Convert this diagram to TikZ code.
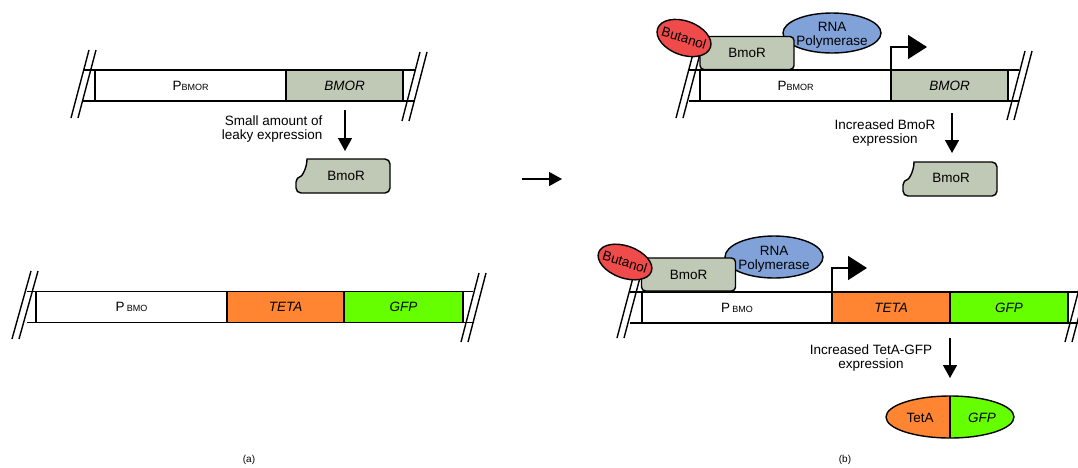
\documentclass[tikz,border=0pt]{standalone}
\usepackage{fontspec}
\setmainfont{Liberation Sans}
\usetikzlibrary{positioning,arrows.meta,calc,shapes.geometric}
\definecolor{bmorgray}{RGB}{192,201,181}
\definecolor{tetaorange}{RGB}{255,133,51}
\definecolor{gfpgreen}{RGB}{102,255,0}
\definecolor{butred}{RGB}{240,75,75}
\definecolor{polblue}{RGB}{128,162,216}

% free BmoR protein, #1 = its top left corner
\newcommand{\bmorprot}[1]{%
  \draw[prot, shift={#1}] (0,18) .. controls (6,17) and (11,9) .. (11,0)
    [rounded corners=5pt] -- (94,0) -- (94,34) -- (0,34) -- cycle;}

\begin{document}
\begin{tikzpicture}[x=1pt, y=-1pt, font=\fontsize{13.5}{14.5}\selectfont,
    gene/.style={draw, line width=1.4pt, minimum height=31pt, inner sep=0pt, outer sep=0pt},
    dna/.style={line width=1.4pt},
    brk/.style={line width=1.4pt},
    prot/.style={draw, line width=1.4pt, fill=bmorgray},
    bound/.style={draw, line width=1.4pt, fill=bmorgray, rounded corners=4pt,
      minimum width=94pt, minimum height=33pt, inner sep=0pt},
    expr/.style={line width=1.4pt, -{Triangle[width=14pt,length=13pt]}},
    prom/.style={line width=1.4pt, -{Triangle[width=24pt,length=19pt]}}]
    \useasboundingbox (0,0) rectangle (1078,467);

    % (a) top: BMOR alone
    \node[gene, minimum width=191pt, anchor=west] (pbmorA) at (95,85.5) {P{\fontsize{9}{9}\selectfont BMOR}};
    \node[gene, minimum width=117pt, fill=bmorgray, right=0pt of pbmorA] (bmorA) {\textit{BMOR}};
    \draw[dna] ($(pbmorA.north west)+(-12,0)$) -- ($(bmorA.north east)+(12,0)$)
               ($(pbmorA.south west)+(-12,0)$) -- ($(bmorA.south east)+(12,0)$);
    \draw[brk] (71,118) -- (89,50) (78,118) -- (96,50);
    \draw[brk] (402,121) -- (420,52) (409,121) -- (427,52);
    \bmorprot{(296,159)}
    \node (protA) at (346,176) {BmoR};
    \coordinate (exA) at (345,151);
    \draw[expr] ($(bmorA.south)+(0.5,9)$) -- (exA);
    \node[align=right, anchor=east] (leakyA) at (326,129) {Small amount of\\leaky expression};

    % (a) bottom: BMO promoter with TETA-GFP
    \node[gene, minimum width=191pt, anchor=west] (pbmoA) at (36,307) {P\,{\fontsize{9}{9}\selectfont BMO}};
    \node[gene, minimum width=117pt, fill=tetaorange, right=0pt of pbmoA] (tetaA) {\textit{TETA}};
    \node[gene, minimum width=119pt, fill=gfpgreen, right=0pt of tetaA] (gfpA) {\textit{GFP}};
    \draw[dna] ($(pbmoA.north west)+(-9,0)$) -- ($(gfpA.north east)+(10,0)$)
               ($(pbmoA.south west)+(-9,0)$) -- ($(gfpA.south east)+(10,0)$);
    \draw[brk] (12,339) -- (31,271) (19,339) -- (38,271);
    \draw[brk] (461,342) -- (479,273) (468,342) -- (486,273);

    \node[font=\fontsize{10}{12}\selectfont] (labA) at (249,460) {(a)};

    % middle arrow
    \coordinate (stepL) at (522,179);
    \coordinate (stepR) at (562,179);
    \draw[expr] (stepL) -- (stepR);

    % (b) top: butanol bound
    \node[gene, minimum width=191pt, anchor=west] (pbmorB) at (700,85.5) {P{\fontsize{9}{9}\selectfont BMOR}};
    \node[gene, minimum width=117pt, fill=bmorgray, right=0pt of pbmorB] (bmorB) {\textit{BMOR}};
    \draw[dna] ($(pbmorB.north west)+(-11,0)$) -- ($(bmorB.north east)+(11,0)$)
               ($(pbmorB.south west)+(-11,0)$) -- ($(bmorB.south east)+(11,0)$);
    \draw[brk] (676,118) -- (694,50) (683,118) -- (701,50);
    \draw[brk] (1007,120) -- (1025,51) (1014,120) -- (1032,51);
    \filldraw[fill=polblue, line width=1.4pt] (832,33) ellipse [x radius=49pt, y radius=20pt];
    \node[align=center, inner sep=0pt, font=\fontsize{13.5}{14}\selectfont] (polB1) at (832,35) {RNA\\Polymerase};
    \node[bound] (boundB1) at (747,53) {BmoR};
    \filldraw[fill=butred, line width=1.4pt, rotate around={-20:(684,38)}] (684,38) ellipse [x radius=28pt, y radius=17pt];
    \node[rotate=-17, inner sep=0pt] (butB1) at (684,38) {Butanol};
    \coordinate (tssB1) at ($(bmorB.north west)+(36,-23)$);
    \draw[prom] (bmorB.north west) |- (tssB1);
    \bmorprot{(903,162)}
    \node (protB) at (951,178) {BmoR};
    \coordinate (exB1) at (952,153);
    \draw[expr] ($(bmorB.south)+(2.5,12)$) -- (exB1);
    \node[align=center] (incB1) at (885,133) {Increased BmoR\\expression};

    % (b) bottom: TetA-GFP switched on
    \node[gene, minimum width=190pt, anchor=west] (pbmoB) at (642,307.5) {P\,{\fontsize{9}{9}\selectfont BMO}};
    \node[gene, minimum width=118pt, fill=tetaorange, right=0pt of pbmoB] (tetaB) {\textit{TETA}};
    \node[gene, minimum width=118pt, fill=gfpgreen, right=0pt of tetaB] (gfpB) {\textit{GFP}};
    \draw[dna] ($(pbmoB.north west)+(-12,0)$) -- ($(gfpB.north east)+(14,0)$)
               ($(pbmoB.south west)+(-12,0)$) -- ($(gfpB.south east)+(14,0)$);
    \draw[brk] (617,338) -- (635,270) (624,338) -- (642,270);
    \draw[brk] (1065,342) -- (1083,274) (1072,342) -- (1090,274);
    \filldraw[fill=polblue, line width=1.4pt] (774,257) ellipse [x radius=49pt, y radius=21pt];
    \node[align=center, inner sep=0pt, font=\fontsize{13.5}{14}\selectfont] (polB2) at (774,259) {RNA\\Polymerase};
    \node[bound] (boundB2) at (688.5,274.5) {BmoR};
    \filldraw[fill=butred, line width=1.4pt, rotate around={-20:(625,262)}] (625,262) ellipse [x radius=28pt, y radius=16pt];
    \node[rotate=-17, inner sep=0pt] (butB2) at (625,262) {Butanol};
    \coordinate (tssB2) at ($(tetaB.north west)+(35,-24)$);
    \draw[prom] (tetaB.north west) |- (tssB2);
    \coordinate (exB2) at (950,378);
    \draw[expr] ($(tetaB.south east)+(0,15)$) -- (exB2);
    \node[align=center] (incB2) at (871,358) {Increased TetA-GFP\\expression};
    \node[draw, ellipse, line width=1.4pt, fill=gfpgreen, minimum width=128pt, minimum height=42pt, inner sep=0pt,
      path picture={\fill[tetaorange] (path picture bounding box.north west) rectangle (path picture bounding box.south);
        \draw[line width=1.4pt] (path picture bounding box.north) -- (path picture bounding box.south);}] (fusionB) at (950,417) {};
    \node (tetaP) at (920,418) {TetA};
    \node (gfpP) at (982,418) {\textit{GFP}};

    \node[font=\fontsize{10}{12}\selectfont] (labB) at (845,460) {(b)};
\end{tikzpicture}
\end{document}
